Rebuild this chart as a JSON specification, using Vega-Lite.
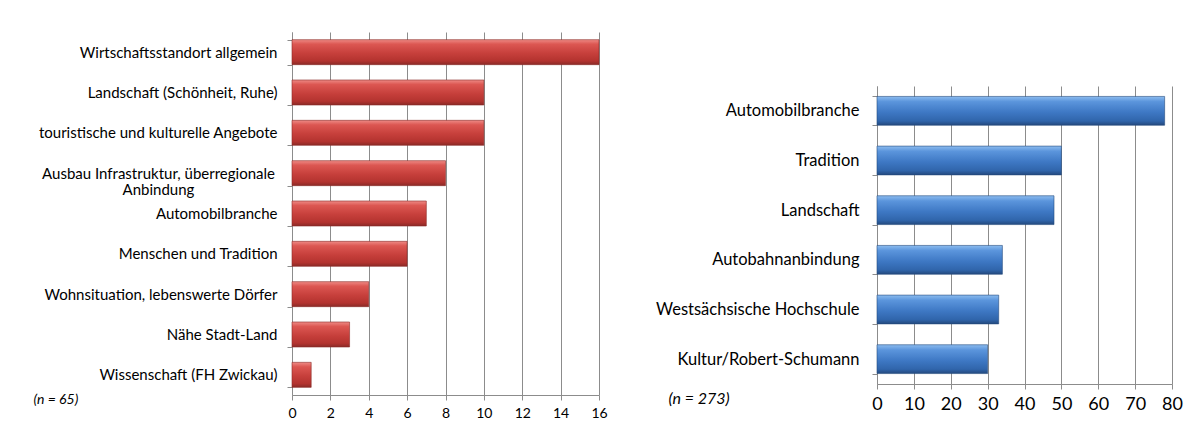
{
  "$schema": "https://vega.github.io/schema/vega-lite/v6.json",
  "padding": {"top": 25, "left": 33, "right": 5, "bottom": 5},
  "spacing": 47,
  "background": "white",
  "config": {
    "view": {"stroke": null},
    "font": "Lato",
    "axis": {"labelFont": "Lato", "titleFont": "Lato", "labelColor": "#000000", "domainColor": "#8c8c8c", "tickColor": "#8c8c8c", "gridColor": "#8c8c8c", "gridOpacity": 1}
  },
  "datasets": {
    "left": [
      {"kategorie": "Wirtschaftsstandort allgemein", "anzahl": 16},
      {"kategorie": "Landschaft (Schönheit, Ruhe)", "anzahl": 10},
      {"kategorie": "touristische und kulturelle Angebote", "anzahl": 10},
      {"kategorie": "Ausbau Infrastruktur,  überregionale Anbindung", "anzahl": 8},
      {"kategorie": "Automobilbranche", "anzahl": 7},
      {"kategorie": "Menschen und Tradition", "anzahl": 6},
      {"kategorie": "Wohnsituation, lebenswerte Dörfer", "anzahl": 4},
      {"kategorie": "Nähe Stadt-Land", "anzahl": 3},
      {"kategorie": "Wissenschaft (FH Zwickau)", "anzahl": 1}
    ],
    "right": [
      {"kategorie": "Automobilbranche", "anzahl": 78},
      {"kategorie": "Tradition", "anzahl": 50},
      {"kategorie": "Landschaft", "anzahl": 48},
      {"kategorie": "Autobahnanbindung", "anzahl": 34},
      {"kategorie": "Westsächsische Hochschule", "anzahl": 33},
      {"kategorie": "Kultur/Robert-Schumann", "anzahl": 30}
    ],
    "leer": [{}]
  },
  "hconcat": [
    {
      "width": 307,
      "height": 363,
      "data": {"name": "left"},
      "mark": {
        "type": "bar",
        "stroke": "#8a2a27",
        "strokeWidth": 0.6,
        "color": {"gradient": "linear", "x1": 0, "y1": 0, "x2": 0, "y2": 1, "stops": [
          {"offset": 0, "color": "#ee8a85"},
          {"offset": 0.18, "color": "#dc5752"},
          {"offset": 0.55, "color": "#c63f3b"},
          {"offset": 0.85, "color": "#b3332f"},
          {"offset": 1, "color": "#8a2a27"}
        ]}
      },
      "encoding": {
        "y": {
          "field": "kategorie", "type": "nominal", "sort": null,
          "scale": {"paddingInner": 0.38, "paddingOuter": 0.19},
          "axis": {
            "title": null,
            "tickBand": "extent",
            "ticks": true, "tickSize": 5, "grid": false,
            "labelFontSize": 15,
            "labelLimit": 320,
            "labelExpr": "datum.value == 'Ausbau Infrastruktur,  überregionale Anbindung' ? ['Ausbau Infrastruktur,  überregionale', 'Anbindung'] : datum.value",
            "labelAlign": {"condition": {"test": "datum.value == 'Ausbau Infrastruktur,  überregionale Anbindung'", "value": "center"}, "value": "right"},
            "labelPadding": {"condition": {"test": "datum.value == 'Ausbau Infrastruktur,  überregionale Anbindung'", "value": 129}, "value": 10},
            "labelLineHeight": 16
          }
        },
        "x": {
          "field": "anzahl", "type": "quantitative",
          "scale": {"domain": [0, 16], "nice": false},
          "axis": {
            "values": [0, 2, 4, 6, 8, 10, 12, 14, 16],
            "grid": true, "tickSize": 5, "labelFontSize": 14, "labelPadding": 6,
            "labelFlush": false,
            "title": "(n = 65)", "titleFontStyle": "italic", "titleFontWeight": "normal", "titleFontSize": 14,
            "titleAlign": "left", "titleAnchor": null, "titleX": -259, "titleY": 4, "titleBaseline": "middle"
          }
        }
      }
    },
    {
      "spacing": 10,
      "vconcat": [
        {
          "width": 295,
          "height": 36,
          "data": {"name": "leer"},
          "mark": {"type": "point", "opacity": 0, "size": 1},
          "encoding": {}
        },
        {
          "width": 295,
          "height": 298,
          "data": {"name": "right"},
          "mark": {
            "type": "bar",
            "stroke": "#24497d",
            "strokeWidth": 0.6,
            "color": {"gradient": "linear", "x1": 0, "y1": 0, "x2": 0, "y2": 1, "stops": [
              {"offset": 0, "color": "#8cbcef"},
              {"offset": 0.18, "color": "#5b95dc"},
              {"offset": 0.55, "color": "#3e78c4"},
              {"offset": 0.85, "color": "#3065ab"},
              {"offset": 1, "color": "#24497d"}
            ]}
          },
          "encoding": {
            "y": {
              "field": "kategorie", "type": "nominal", "sort": null,
              "scale": {"paddingInner": 0.42, "paddingOuter": 0.21},
              "axis": {
                "title": null,
                "tickBand": "extent",
                "ticks": true, "tickSize": 5, "grid": false,
                "labelFontSize": 16.5, "labelPadding": 13,
                "labelLimit": 320
              }
            },
            "x": {
              "field": "anzahl", "type": "quantitative",
              "scale": {"domain": [0, 80], "nice": false},
              "axis": {
                "values": [0, 10, 20, 30, 40, 50, 60, 70, 80],
                "grid": true, "tickSize": 5, "labelFontSize": 18, "labelPadding": 6,
                "labelFlush": false,
                "title": "(n = 273)", "titleFontStyle": "italic", "titleFontWeight": "normal", "titleFontSize": 16,
                "titleAlign": "left", "titleAnchor": null, "titleX": -209, "titleY": 14, "titleBaseline": "middle"
              }
            }
          }
        }
      ]
    }
  ]
}
